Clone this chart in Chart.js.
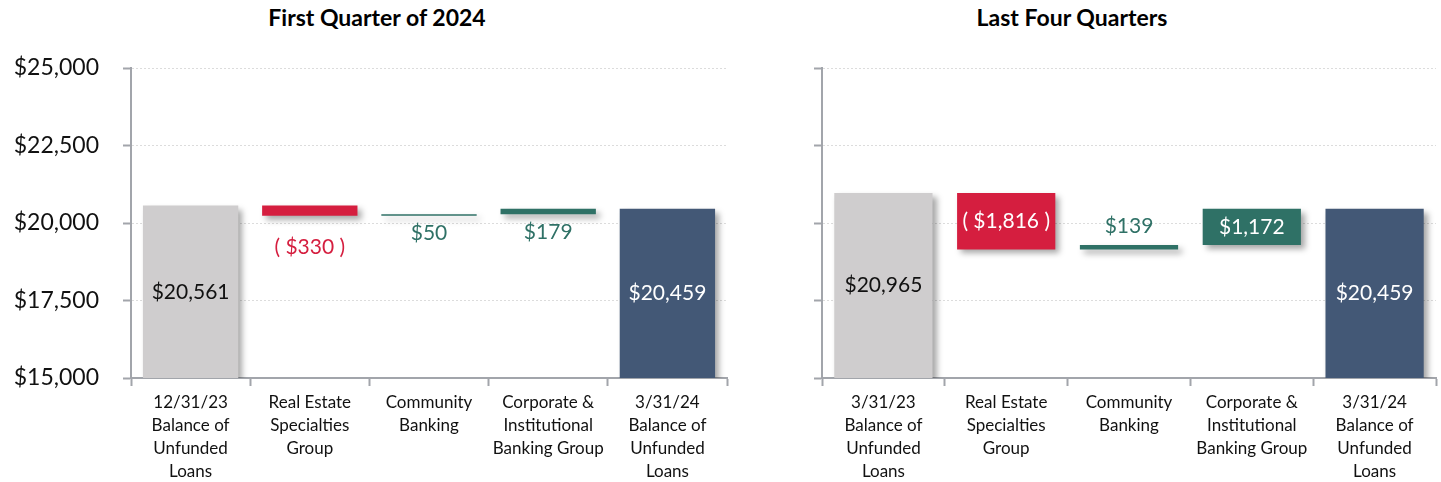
<!DOCTYPE html>
<html>
<head>
<meta charset="utf-8">
<script src="https://cdn.jsdelivr.net/npm/chart.js@4.4.1/dist/chart.umd.min.js"></script>
<style>
  body { margin: 0; background: #fff; width: 1441px; height: 482px; overflow: hidden; position: relative; }
  canvas { position: absolute; top: 0; }
  .title { position: absolute; top: 3px; font: bold 23px Lato, sans-serif; color: #000; text-align: center; }
</style>
</head>
<body>
<div class="title" style="left:0;width:754px">First Quarter of 2024</div>
<div class="title" style="left:703px;width:738px">Last Four Quarters</div>
<canvas id="q1Chart" width="745" height="482" style="left:0"></canvas>
<canvas id="yearChart" width="696" height="482" style="left:745px"></canvas>
<script>
// AXIS
const Y_MIN = 15000;
const Y_MAX = 25000;
const Y_STEP = 2500;

// FIRST QUARTER OF 2024
const q1Labels = [
  ["12/31/23", "Balance of", "Unfunded", "Loans"],
  ["Real Estate", "Specialties", "Group"],
  ["Community", "Banking"],
  ["Corporate &", "Institutional", "Banking Group"],
  ["3/31/24", "Balance of", "Unfunded", "Loans"]
];
const q1Values = [20561, -330, 50, 179, 20459];

// LAST FOUR QUARTERS
const yearLabels = [
  ["3/31/23", "Balance of", "Unfunded", "Loans"],
  ["Real Estate", "Specialties", "Group"],
  ["Community", "Banking"],
  ["Corporate &", "Institutional", "Banking Group"],
  ["3/31/24", "Balance of", "Unfunded", "Loans"]
];
const yearValues = [20965, -1816, 139, 1172, 20459];

// first and last bars are balances, the rest are changes
const isTotal = [true, false, false, false, true];

const GRAY = "#CFCDCE";
const RED = "#D51E3F";
const TEAL = "#2F7166";
const NAVY = "#435876";
const AXIS = "#A2A5AB";
const BAR_COLORS = [GRAY, RED, TEAL, TEAL, NAVY];

function floatingBars(values) {
  let run = 0;
  return values.map((v, i) => {
    if (isTotal[i]) {
      run = v;
      return [Y_MIN, v];
    }
    const start = run;
    run += v;
    return [start, run];
  });
}

function money(v) {
  const s = "$" + Math.abs(v).toLocaleString("en-US");
  return v < 0 ? "( " + s + " )" : s;
}

const barShadow = {
  id: "barShadow",
  beforeDatasetsDraw(chart) {
    const c = chart.ctx;
    c.save();
    c.shadowColor = "rgba(0,0,0,0.35)";
    c.shadowBlur = 6;
    c.shadowOffsetX = 4;
    c.shadowOffsetY = 4;
  },
  afterDatasetsDraw(chart) {
    chart.ctx.restore();
  }
};

const barLabels = {
  id: "barLabels",
  afterDatasetsDraw(chart, args, opts) {
    const ctx = chart.ctx;
    const meta = chart.getDatasetMeta(0);
    const values = chart.data.datasets[0].rawValues;
    ctx.save();
    ctx.font = "21px Lato";
    ctx.textAlign = "center";
    ctx.textBaseline = "middle";
    meta.data.forEach((bar, i) => {
      const top = Math.min(bar.y, bar.base);
      const bottom = Math.min(Math.max(bar.y, bar.base), chart.chartArea.bottom);
      let y;
      if (opts.place[i] === "center") y = (top + bottom) / 2;
      else if (opts.place[i] === "below") y = bottom + opts.offset[i];
      else y = top - opts.offset[i];
      ctx.fillStyle = opts.colors[i];
      ctx.fillText(money(values[i]), bar.x, y);
    });
    ctx.restore();
  }
};

function makeChart(id, labels, values, yWidth, padRight, showTicks, labelOpts) {
  return new Chart(document.getElementById(id), {
    type: "bar",
    data: {
      labels: labels,
      datasets: [{
        data: floatingBars(values),
        rawValues: values,
        backgroundColor: BAR_COLORS,
        barPercentage: 0.8,
        categoryPercentage: 1,
        borderSkipped: false
      }]
    },
    options: {
      responsive: false,
      animation: false,
      layout: { padding: { top: 68, right: padRight, left: 0, bottom: 0 } },
      plugins: {
        legend: { display: false },
        tooltip: { enabled: false },
        barLabels: labelOpts
      },
      scales: {
        x: {
          grid: { drawOnChartArea: false, tickLength: 8, tickColor: AXIS, tickWidth: 2 },
          border: { color: AXIS, width: 2 },
          ticks: { font: { family: "Lato", size: 17, lineHeight: 1.35 }, color: "#111", padding: 5, maxRotation: 0, autoSkip: false },
          afterFit: s => { s.height = 104; }
        },
        y: {
          min: Y_MIN,
          max: Y_MAX,
          ticks: {
            stepSize: Y_STEP,
            font: { family: "Lato", size: 23 },
            color: "#111",
            padding: 24,
            callback: v => showTicks ? "$" + v.toLocaleString("en-US") : ""
          },
          grid: { color: "#DCDCDC", tickColor: AXIS, tickLength: 8, tickWidth: 2 },
          border: { color: AXIS, width: 2, dash: [2, 2] },
          afterFit: s => { s.width = yWidth; }
        }
      }
    },
    plugins: [barShadow, barLabels]
  });
}

makeChart("q1Chart", q1Labels, q1Values, 131, 18, true, {
  place: ["center", "below", "below", "below", "center"],
  offset: [0, 31, 17, 18, 0],
  colors: ["#111", RED, TEAL, TEAL, "#fff"]
});

makeChart("yearChart", yearLabels, yearValues, 77, 5, false, {
  place: ["center", "center", "above", "center", "center"],
  offset: [0, 0, 19, 0, 0],
  colors: ["#111", "#fff", TEAL, "#fff", "#fff"]
});
</script>
</body>
</html>
